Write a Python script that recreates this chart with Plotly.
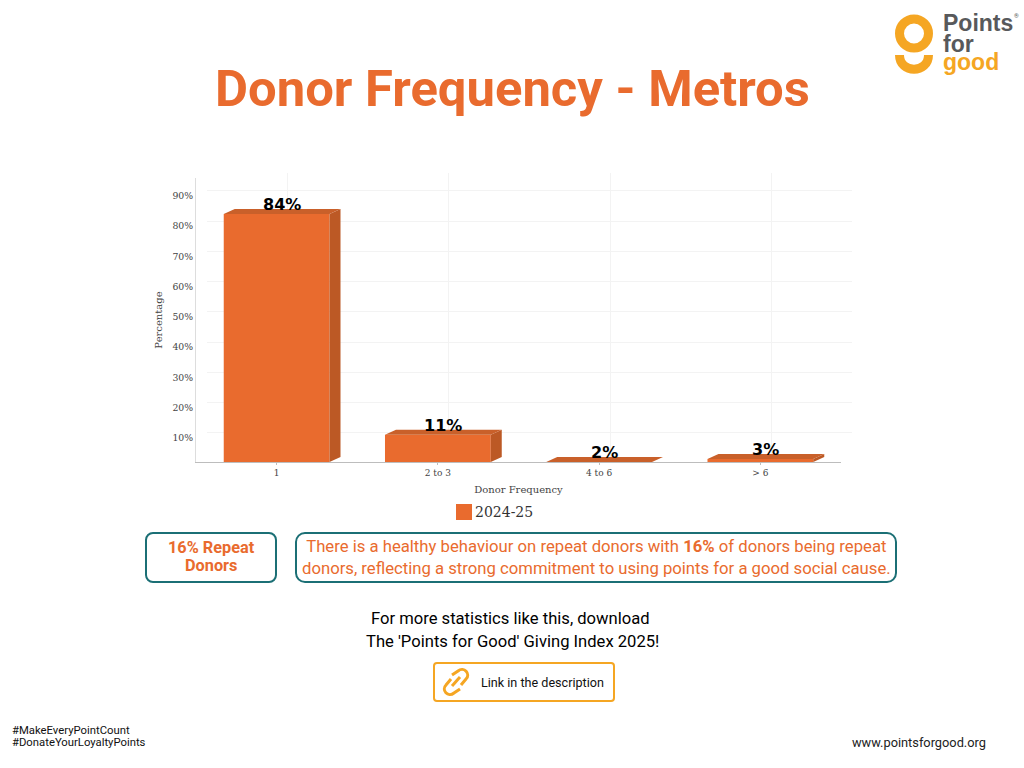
import numpy as np
import plotly.graph_objects as go

categories = ["1", "2 to 3", "4 to 6", "> 6"]
values = [84, 11, 2, 3]
value_labels = ["84%", "11%", "2%", "3%"]
y_ticks = [10, 20, 30, 40, 50, 60, 70, 80, 90]
y_tick_labels = ["10%", "20%", "30%", "40%", "50%", "60%", "70%", "80%", "90%"]
legend_name = "2024-25"

ORANGE = "#E96B2E"
SIDE = "#BC5925"
TOP = "#C9602A"
TEAL = "#1B6F75"
AMBER = "#F5A623"
GREY = "#58595B"

W, H = 1024, 768
x_pos = list(range(len(categories)))
y_range = [1.98, 95.87]
bar_width = 0.656
# fake 3d depth, in data units (about 11px right, 5px up)
dx = 11 / 161.5
dy = 5 / 3.025


def px(x):
    return x / W


def py(y):
    return 1 - y / H


def page_path(cmds):
    # cmds use page pixels, converted to paper coords
    out = []
    for c in cmds:
        if c == "Z":
            out.append("Z")
        else:
            pts = " ".join(f"{px(a):.5f},{py(b):.5f}" for a, b in c[1])
            out.append(c[0] + " " + pts)
    return " ".join(out)


def round_box(x0, y0, x1, y1, r, color, width=2):
    k = 0.45 * r
    path = page_path([
        ("M", [(x0 + r, y0)]), ("L", [(x1 - r, y0)]),
        ("C", [(x1 - k, y0), (x1, y0 + k), (x1, y0 + r)]),
        ("L", [(x1, y1 - r)]),
        ("C", [(x1, y1 - k), (x1 - k, y1), (x1 - r, y1)]),
        ("L", [(x0 + r, y1)]),
        ("C", [(x0 + k, y1), (x0, y1 - k), (x0, y1 - r)]),
        ("L", [(x0, y0 + r)]),
        ("C", [(x0, y0 + k), (x0 + k, y0), (x0 + r, y0)]),
        "Z",
    ])
    return dict(type="path", xref="paper", yref="paper", path=path,
                line=dict(color=color, width=width))


def stroke(cmds, color, width):
    return dict(type="path", xref="paper", yref="paper", path=page_path(cmds),
                line=dict(color=color, width=width))


def text(x, y, s, size, color="#000000", family="Roboto", anchor="center", **kw):
    return dict(xref="paper", yref="paper", x=px(x), y=py(y), text=s, showarrow=False,
                xanchor=anchor, yanchor="middle", align=kw.pop("align", anchor if anchor != "center" else "center"),
                font=dict(family=family, size=size, color=color), **kw)


fig = go.Figure()

# back wall grid sits on its own axes, shifted by the depth
fig.add_trace(go.Scatter(x=x_pos, y=values, mode="none", xaxis="x", yaxis="y",
                         showlegend=False, hoverinfo="skip"))

for i, v in enumerate(values):
    left = x_pos[i] - bar_width / 2
    right = x_pos[i] + bar_width / 2
    # right side face
    fig.add_trace(go.Scatter(x=[right, right + dx, right + dx, right, right],
                             y=[y_range[0], y_range[0] + dy, v + dy, v, y_range[0]],
                             mode="lines", fill="toself", fillcolor=SIDE, line=dict(width=0),
                             xaxis="x2", yaxis="y2", showlegend=False, hoverinfo="skip"))
    # top face
    fig.add_trace(go.Scatter(x=[left, left + dx, right + dx, right, left],
                             y=[v, v + dy, v + dy, v, v],
                             mode="lines", fill="toself", fillcolor=TOP, line=dict(width=0),
                             xaxis="x2", yaxis="y2", showlegend=False, hoverinfo="skip"))

fig.add_trace(go.Bar(x=x_pos, y=values, width=bar_width, marker=dict(color=ORANGE, line=dict(width=0)),
                     name=legend_name, xaxis="x2", yaxis="y2", showlegend=False))

grid = "#F3F3F3"
serif = "DejaVu Serif"
fig.update_layout(
    width=W, height=H, margin=dict(l=0, r=0, t=0, b=0),
    paper_bgcolor="white", plot_bgcolor="rgba(0,0,0,0)", showlegend=False,
    xaxis=dict(domain=[px(207), px(852)], range=[-0.5, 3.5], anchor="y", tickvals=x_pos,
               showticklabels=False, showgrid=True, gridcolor=grid, gridwidth=1, zeroline=False),
    yaxis=dict(domain=[py(457), py(173)], range=y_range, anchor="x", tickvals=y_ticks,
               showticklabels=False, showgrid=True, gridcolor=grid, gridwidth=1, zeroline=False),
    xaxis2=dict(domain=[px(196), px(841)], range=[-0.5, 3.5], anchor="y2", tickvals=x_pos,
                ticktext=categories, showgrid=False, zeroline=False, showline=True, linecolor="#BDBDBD",
                ticks="outside", ticklen=2, tickcolor="#BDBDBD",
                tickfont=dict(family=serif, size=9, color="#444444"),
                title=dict(text="Donor Frequency", standoff=9, font=dict(family=serif, size=10, color="#444444"))),
    yaxis2=dict(domain=[py(462), py(178)], range=y_range, anchor="x2", tickvals=y_ticks,
                ticktext=y_tick_labels, showgrid=False, zeroline=False, showline=True, linecolor="#DDDDDD",
                tickfont=dict(family=serif, size=9.3, color="#444444"),
                title=dict(text="Percentage", standoff=7, font=dict(family=serif, size=10, color="#444444"))),
)

annotations = []
for i, v in enumerate(values):
    annotations.append(dict(xref="x2", yref="y2", x=x_pos[i], y=v, xshift=5, yshift=9, text=f"<b>{value_labels[i]}</b>",
                            showarrow=False, xanchor="center", yanchor="middle",
                            font=dict(family="DejaVu Sans", size=16, color="#000000")))

annotations += [
    text(512, 89, "<b>Donor Frequency - Metros</b>", 50.8, ORANGE),
    text(473, 512, legend_name, 14, "#333333", serif, "left"),
    text(211, 547, "<b>16% Repeat</b>", 16.3, ORANGE),
    text(211, 565, "<b>Donors</b>", 16.3, ORANGE),
    text(596, 557, "There is a healthy behaviour on repeat donors with <b>16%</b> of donors being repeat<br>"
                   "donors, reflecting a strong commitment to using points for a good social cause.", 16.7, ORANGE),
    text(510, 618, "For more statistics like this, download", 16.6),
    text(512, 641, "The 'Points for Good' Giving Index 2025!", 16.6),
    text(479, 682, "Link in the description", 12.6, "#111111", anchor="left"),
    text(10, 730, "#MakeEveryPointCount", 11.3, "#111111", anchor="left"),
    text(10, 742, "#DonateYourLoyaltyPoints", 11.3, "#111111", anchor="left"),
    text(988, 742, "www.pointsforgood.org", 12.8, "#222222", anchor="right"),
    text(941, 23, "<b>Points</b>", 23, GREY, "Liberation Sans", "left"),
    text(941, 44, "<b>for</b>", 23, GREY, "Liberation Sans", "left"),
    text(941, 62, "<b>good</b>", 23, AMBER, "Liberation Sans", "left"),
    text(1016, 15, "®", 6, GREY),
]

shapes = [
    # legend swatch
    dict(type="rect", xref="paper", yref="paper", x0=px(456), x1=px(472), y0=py(520), y1=py(504),
         fillcolor=ORANGE, line=dict(width=0)),
    round_box(146, 533, 276, 582, 7, TEAL),
    round_box(296, 533, 896, 582, 9, TEAL),
    round_box(434, 663, 614, 701, 3, AMBER),
    # link icon
    stroke([("M", [(452, 675)]), ("L", [(458, 671)]), ("C", [(464, 666), (471, 674), (466, 679)]),
            ("L", [(461, 685)])], AMBER, 3),
    stroke([("M", [(460, 689)]), ("L", [(454, 693)]), ("C", [(448, 698), (441, 690), (446, 685)]),
            ("L", [(451, 679)])], AMBER, 3),
    stroke([("M", [(452, 686)]), ("L", [(460, 677)])], AMBER, 3),
    # logo ring and smile
    dict(type="circle", xref="paper", yref="paper", x0=px(899.5), x1=px(928.5), y0=py(48), y1=py(19),
         line=dict(color=AMBER, width=9)),
    stroke([("M", [(899.5, 55)]), ("C", [(899.5, 74), (928.5, 74), (928.5, 55)])], AMBER, 9),
]

fig.update_layout(annotations=annotations, shapes=shapes)
fig.write_html("out.html", config=dict(displayModeBar=False),
               post_script="document.body.style.margin='0';")
